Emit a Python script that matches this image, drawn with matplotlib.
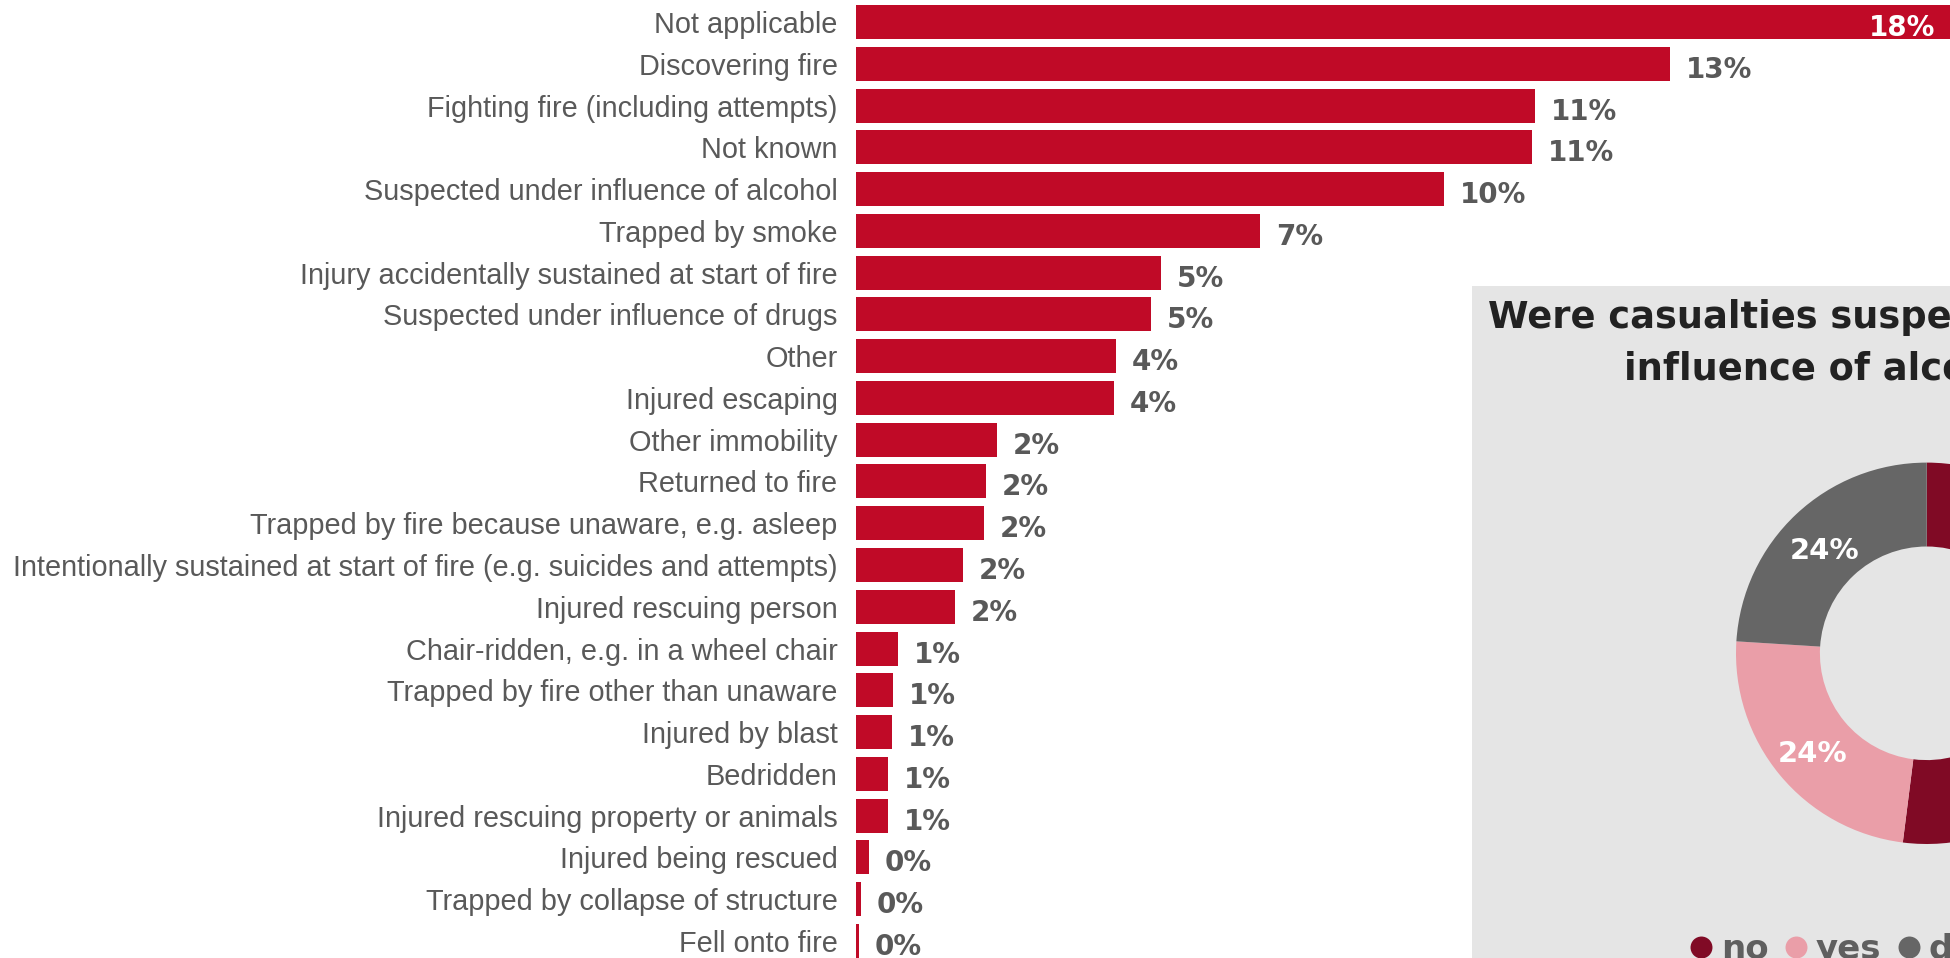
import matplotlib
matplotlib.use("Agg")
import matplotlib.pyplot as plt
from matplotlib.lines import Line2D
from matplotlib.transforms import offset_copy

# ── Data ──────────────────────────────────────────────────────────────────────
categories = [
    "Not applicable",
    "Discovering fire",
    "Fighting fire (including attempts)",
    "Not known",
    "Suspected under influence of alcohol",
    "Trapped by smoke",
    "Injury accidentally sustained at start of fire",
    "Suspected under influence of drugs",
    "Other",
    "Injured escaping",
    "Other immobility",
    "Returned to fire",
    "Trapped by fire because unaware, e.g. asleep",
    "Intentionally sustained at start of fire (e.g. suicides and attempts)",
    "Injured rescuing person",
    "Chair-ridden, e.g. in a wheel chair",
    "Trapped by fire other than unaware",
    "Injured by blast",
    "Bedridden",
    "Injured rescuing property or animals",
    "Injured being rescued",
    "Trapped by collapse of structure",
    "Fell onto fire",
]
shares = [17.96, 13.34, 11.13, 11.08, 9.64, 6.62, 5.0, 4.84, 4.26, 4.23,
          2.31, 2.13, 2.10, 1.75, 1.62, 0.69, 0.61, 0.59, 0.52, 0.52,
          0.21, 0.08, 0.05]

alcohol_labels = ["no", "yes", "don't know"]
alcohol_shares = [52, 24, 24]
donut_title = ["Were casualties suspected under the", "influence of alcohol?"]

# ── Styling ───────────────────────────────────────────────────────────────────
BAR_RED = "#C00A27"
GREY_TXT = "#595959"
DONUT_COLORS = ["#800A25", "#EA9EA8", "#666666"]
PANEL_BG = "#E5E5E5"
W, H = 1950, 958

fig = plt.figure(figsize=(W / 100, H / 100), dpi=100)
fig.patch.set_facecolor("white")

# ── Bar chart ─────────────────────────────────────────────────────────────────
x0 = 856
px_per_pct = 61.0
row_h = 41.77
first_c = 22.0

ax = fig.add_axes([x0 / W, 0, (W - x0) / W, 1])
ax.set_facecolor("none")
n = len(categories)
ypos = list(range(n))
ax.barh(ypos, shares, height=34 / row_h, color=BAR_RED)
ax.set_xlim(0, (W - x0) / px_per_pct)
ax.set_ylim((H - first_c) / row_h, -first_c / row_h)
ax.set_yticks(ypos, labels=categories)
ax.set_xticks([])
ax.tick_params(axis="y", length=0, pad=13.3)
for lab in ax.get_yticklabels():
    lab.set_fontfamily("Liberation Sans")
    lab.set_fontsize(20.75)
    lab.set_color(GREY_TXT)
for sp in ax.spines.values():
    sp.set_visible(False)

xmax = ax.get_xlim()[1]
for i, v in enumerate(shares):
    inside = v > xmax * 0.95
    ax.annotate(
        f"{v:.0f}%", (v, i),
        xytext=(-16 if inside else 16, -14), textcoords="offset pixels",
        ha="right" if inside else "left", va="baseline",
        fontsize=20, fontweight="bold", fontfamily="DejaVu Sans",
        color="white" if inside else GREY_TXT, annotation_clip=False,
    )

# ── Donut panel ───────────────────────────────────────────────────────────────
px0, py_top = 1472, 286
panel = fig.add_axes([px0 / W, 0, (W - px0) / W, (H - py_top) / H])
panel.set_facecolor(PANEL_BG)
panel.set_xticks([])
panel.set_yticks([])
for sp in panel.spines.values():
    sp.set_visible(False)

fig.text(1488 / W, 1 - 328 / H, donut_title[0], ha="left", va="baseline",
         fontsize=26.5, fontweight="bold", color="#222222")
fig.text(1624 / W, 1 - 380 / H, donut_title[1], ha="left", va="baseline",
         fontsize=26.5, fontweight="bold", color="#222222")

cx, cy, r = 1926.7, 653.3, 190.7
dax = fig.add_axes([(cx - r) / W, (H - cy - r) / H, 2 * r / W, 2 * r / H])
dax.set_facecolor("none")
wedges, _, pcts = dax.pie(
    alcohol_shares, colors=DONUT_COLORS, startangle=90, counterclock=False,
    radius=1.0, wedgeprops=dict(width=0.44, linewidth=0),
    autopct=lambda p: f"{p:.0f}%", pctdistance=0.78,
    textprops=dict(color="white", fontsize=21, fontweight="bold"),
)
# nudge the percentage labels down a little, as in the source
for t in pcts:
    t.set_transform(offset_copy(dax.transData, fig=fig, y=-6, units="dots"))
dax.set_xlim(-1, 1)
dax.set_ylim(-1, 1)
dax.set_aspect("equal")

handles = [Line2D([], [], marker="o", linestyle="none", markersize=15.8,
                  markerfacecolor=c, markeredgewidth=0) for c in DONUT_COLORS]
leg = fig.legend(handles, alcohol_labels, loc="lower left",
                 bbox_to_anchor=(1690 / W, -8 / H), ncol=3, frameon=False,
                 prop=dict(size=24.5, weight="bold"), labelcolor="#5F5F5F",
                 handlelength=0.65, handletextpad=0.25, columnspacing=0.5,
                 borderpad=0, borderaxespad=0)

fig.savefig("out.png", dpi=100)
